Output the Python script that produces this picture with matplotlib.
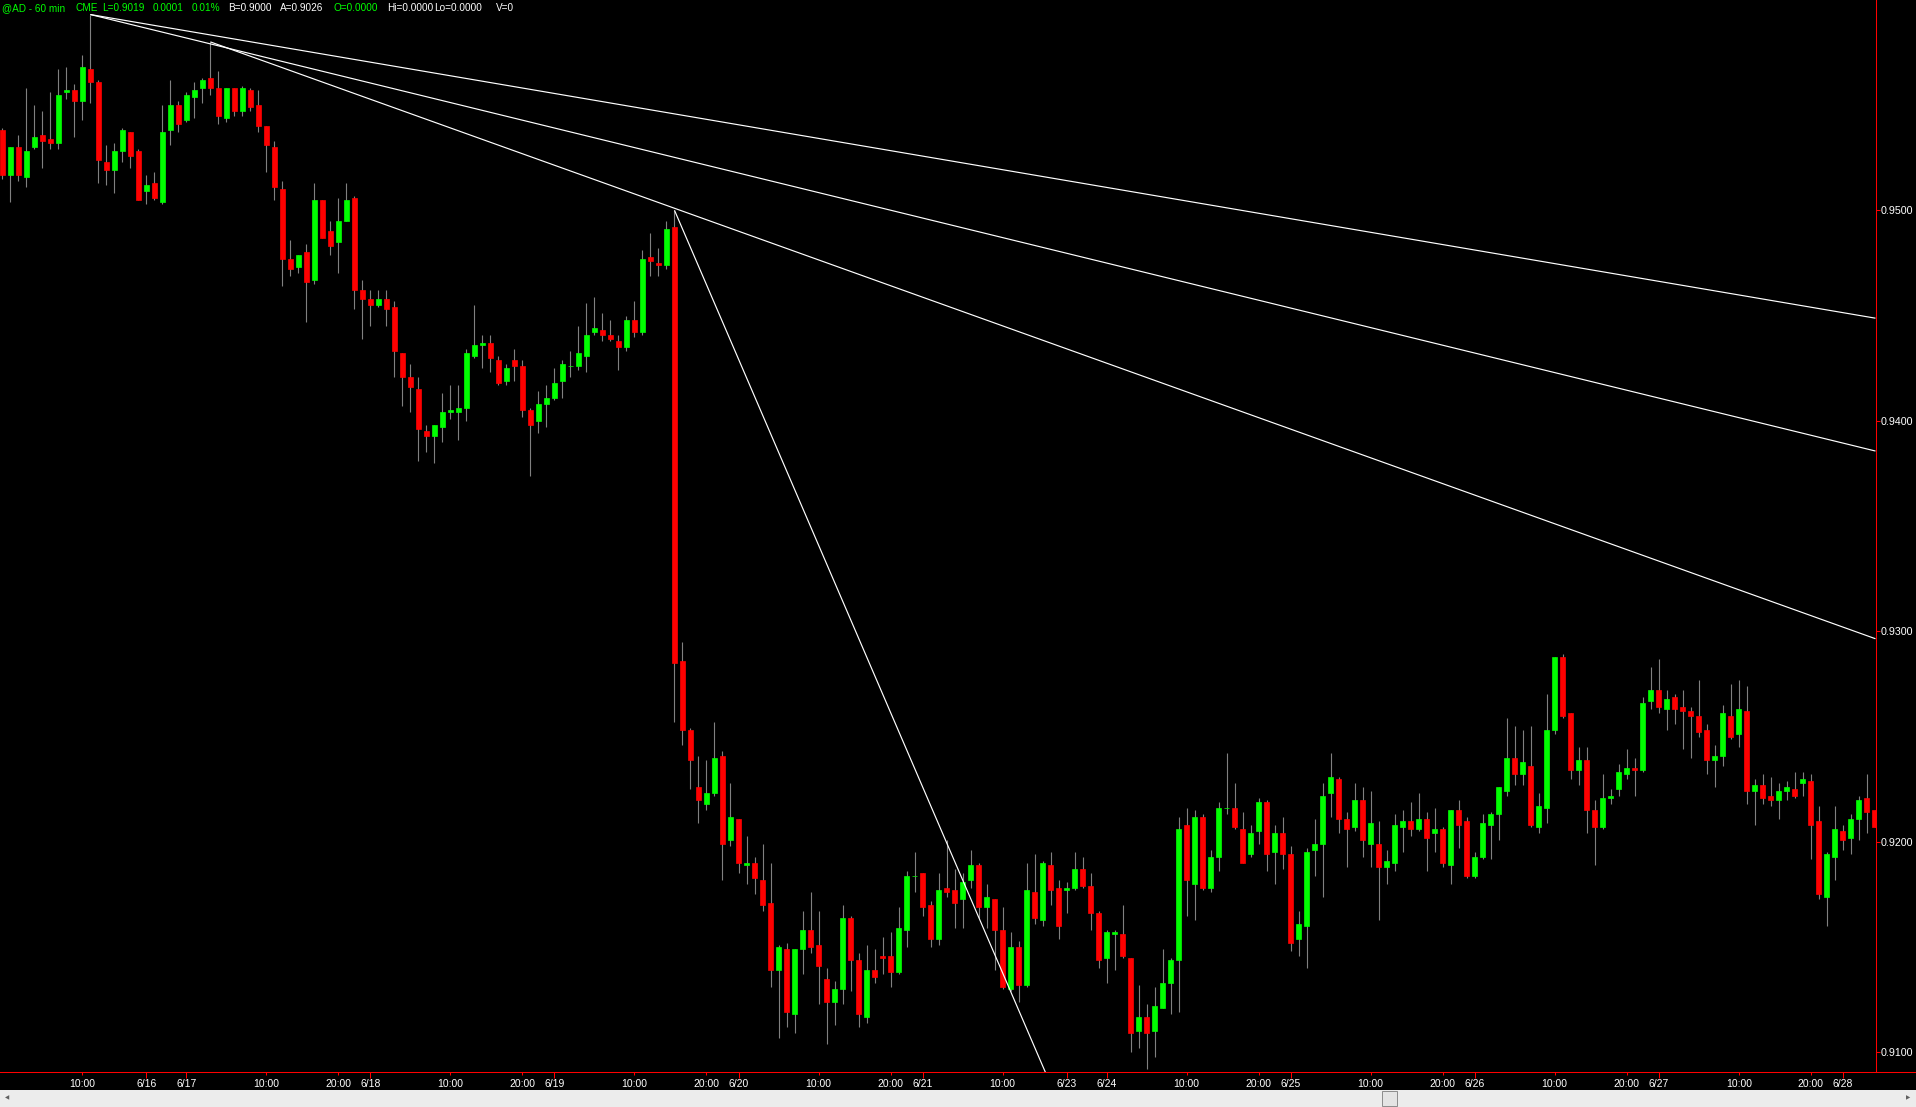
import matplotlib
matplotlib.use("Agg")
import matplotlib.pyplot as plt
import matplotlib.transforms as mtransforms
from matplotlib.patches import Rectangle
from matplotlib.lines import Line2D
import numpy as np

plt.rcParams['font.family'] = ['Liberation Sans', 'DejaVu Sans']

# ---------------- data (60-min bars, AD futures) ----------------
opens = [0.9538, 0.9517, 0.9530, 0.9516, 0.9530, 0.9536, 0.9534, 0.9532, 0.9556, 0.9557,
         0.9552, 0.9567, 0.9561, 0.9523, 0.9519, 0.9528, 0.9537, 0.9528, 0.9509, 0.9513,
         0.9504, 0.9538, 0.9550, 0.9543, 0.9554, 0.9558, 0.9563, 0.9558, 0.9544, 0.9558,
         0.9547, 0.9557, 0.9550, 0.9540, 0.9530, 0.9510, 0.9477, 0.9473, 0.9480, 0.9467,
         0.9505, 0.9490, 0.9485, 0.9495, 0.9506, 0.9462, 0.9458, 0.9455, 0.9458, 0.9454,
         0.9432, 0.9421, 0.9415, 0.9395, 0.9393, 0.9397, 0.9404, 0.9404, 0.9406, 0.9431,
         0.9436, 0.9437, 0.9429, 0.9419, 0.9429, 0.9426, 0.9405, 0.9400, 0.9408, 0.9411,
         0.9419, 0.9426, 0.9426, 0.9431, 0.9442, 0.9443, 0.9441, 0.9438, 0.9435, 0.9448,
         0.9442, 0.9478, 0.9475, 0.9474, 0.9492, 0.9286, 0.9253, 0.9226, 0.9218, 0.9223,
         0.9241, 0.9201, 0.9211, 0.9189, 0.9190, 0.9182, 0.9171, 0.9139, 0.9149, 0.9118,
         0.9149, 0.9158, 0.9151, 0.9135, 0.9124, 0.9130, 0.9164, 0.9144, 0.9117, 0.9139,
         0.9146, 0.9146, 0.9138, 0.9158, 0.9184, 0.9185, 0.9170, 0.9154, 0.9178, 0.9177,
         0.9173, 0.9182, 0.9189, 0.9169, 0.9173, 0.9158, 0.9130, 0.9150, 0.9132, 0.9176,
         0.9163, 0.9189, 0.9178, 0.9177, 0.9178, 0.9187, 0.9179, 0.9166, 0.9145, 0.9156,
         0.9156, 0.9145, 0.9110, 0.9117, 0.9110, 0.9121, 0.9133, 0.9144, 0.9208, 0.9180,
         0.9212, 0.9178, 0.9193, 0.9216, 0.9216, 0.9206, 0.9194, 0.9205, 0.9219, 0.9195,
         0.9204, 0.9194, 0.9154, 0.9160, 0.9196, 0.9199, 0.9223, 0.9230, 0.9211, 0.9207,
         0.9220, 0.9199, 0.9199, 0.9188, 0.9190, 0.9207, 0.9210, 0.9206, 0.9211, 0.9204,
         0.9206, 0.9189, 0.9215, 0.9210, 0.9184, 0.9193, 0.9208, 0.9213, 0.9224, 0.9240,
         0.9232, 0.9236, 0.9207, 0.9216, 0.9253, 0.9288, 0.9261, 0.9234, 0.9239, 0.9215,
         0.9207, 0.9221, 0.9225, 0.9232, 0.9235, 0.9234, 0.9267, 0.9272, 0.9263, 0.9269,
         0.9264, 0.9262, 0.9260, 0.9253, 0.9239, 0.9241, 0.9260, 0.9251, 0.9262, 0.9224,
         0.9227, 0.9222, 0.9220, 0.9224, 0.9225, 0.9228, 0.9229, 0.9210, 0.9174, 0.9193,
         0.9205, 0.9202, 0.9211, 0.9221, 0.9215]
highs = [0.9539, 0.9530, 0.9536, 0.9558, 0.9550, 0.9547, 0.9556, 0.9567, 0.9568, 0.9560,
         0.9574, 0.9593, 0.9562, 0.9531, 0.9532, 0.9539, 0.9537, 0.9529, 0.9517, 0.9518,
         0.9550, 0.9562, 0.9552, 0.9556, 0.9561, 0.9563, 0.9580, 0.9566, 0.9558, 0.9558,
         0.9559, 0.9558, 0.9557, 0.9540, 0.9533, 0.9514, 0.9486, 0.9479, 0.9484, 0.9513,
         0.9505, 0.9495, 0.9506, 0.9513, 0.9507, 0.9467, 0.9462, 0.9462, 0.9462, 0.9457,
         0.9432, 0.9427, 0.9421, 0.9398, 0.9398, 0.9413, 0.9417, 0.9417, 0.9434, 0.9455,
         0.9441, 0.9441, 0.9431, 0.9427, 0.9434, 0.9429, 0.9406, 0.9414, 0.9417, 0.9425,
         0.9429, 0.9433, 0.9445, 0.9456, 0.9459, 0.9451, 0.9448, 0.9441, 0.9450, 0.9457,
         0.9481, 0.9489, 0.9482, 0.9495, 0.9500, 0.9295, 0.9254, 0.9241, 0.9239, 0.9257,
         0.9243, 0.9228, 0.9211, 0.9203, 0.9193, 0.9199, 0.9190, 0.9151, 0.9152, 0.9149,
         0.9167, 0.9176, 0.9167, 0.9140, 0.9134, 0.9170, 0.9165, 0.9147, 0.9151, 0.9149,
         0.9155, 0.9157, 0.9169, 0.9186, 0.9195, 0.9185, 0.9172, 0.9185, 0.9201, 0.9187,
         0.9185, 0.9196, 0.9190, 0.9180, 0.9173, 0.9169, 0.9157, 0.9153, 0.9190, 0.9194,
         0.9191, 0.9195, 0.9182, 0.9181, 0.9195, 0.9193, 0.9185, 0.9167, 0.9158, 0.9158,
         0.9170, 0.9145, 0.9132, 0.9123, 0.9131, 0.9149, 0.9145, 0.9212, 0.9216, 0.9215,
         0.9213, 0.9196, 0.9219, 0.9242, 0.9228, 0.9214, 0.9208, 0.9221, 0.9220, 0.9208,
         0.9212, 0.9198, 0.9167, 0.9197, 0.9211, 0.9228, 0.9242, 0.9231, 0.9214, 0.9228,
         0.9226, 0.9224, 0.9210, 0.9196, 0.9213, 0.9215, 0.9219, 0.9223, 0.9214, 0.9216,
         0.9207, 0.9215, 0.9220, 0.9212, 0.9195, 0.9213, 0.9214, 0.9226, 0.9259, 0.9255,
         0.9253, 0.9255, 0.9223, 0.9270, 0.9288, 0.9289, 0.9261, 0.9245, 0.9245, 0.9220,
         0.9232, 0.9225, 0.9237, 0.9244, 0.9240, 0.9269, 0.9283, 0.9287, 0.9272, 0.9270,
         0.9272, 0.9264, 0.9277, 0.9256, 0.9246, 0.9265, 0.9275, 0.9277, 0.9274, 0.9230,
         0.9232, 0.9231, 0.9228, 0.9229, 0.9233, 0.9233, 0.9232, 0.9217, 0.9195, 0.9217,
         0.9208, 0.9213, 0.9222, 0.9232, 0.9215]
lows = [0.9515, 0.9504, 0.9514, 0.9511, 0.9529, 0.9520, 0.9529, 0.9529, 0.9553, 0.9535,
        0.9543, 0.9551, 0.9513, 0.9512, 0.9508, 0.9523, 0.9520, 0.9505, 0.9503, 0.9505,
        0.9503, 0.9531, 0.9537, 0.9542, 0.9544, 0.9551, 0.9555, 0.9541, 0.9542, 0.9545,
        0.9545, 0.9547, 0.9537, 0.9518, 0.9505, 0.9464, 0.9469, 0.9470, 0.9447, 0.9465,
        0.9487, 0.9479, 0.9470, 0.9495, 0.9453, 0.9439, 0.9445, 0.9454, 0.9445, 0.9421,
        0.9407, 0.9404, 0.9381, 0.9385, 0.9380, 0.9390, 0.9401, 0.9391, 0.9400, 0.9430,
        0.9425, 0.9423, 0.9417, 0.9417, 0.9419, 0.9402, 0.9374, 0.9394, 0.9397, 0.9410,
        0.9411, 0.9421, 0.9424, 0.9423, 0.9441, 0.9438, 0.9438, 0.9424, 0.9433, 0.9440,
        0.9441, 0.9469, 0.9469, 0.9472, 0.9257, 0.9246, 0.9225, 0.9209, 0.9215, 0.9222,
        0.9182, 0.9198, 0.9185, 0.9180, 0.9175, 0.9167, 0.9131, 0.9107, 0.9112, 0.9109,
        0.9137, 0.9147, 0.9123, 0.9104, 0.9113, 0.9123, 0.9129, 0.9112, 0.9114, 0.9133,
        0.9137, 0.9131, 0.9137, 0.9150, 0.9176, 0.9165, 0.9150, 0.9151, 0.9174, 0.9159,
        0.9159, 0.9178, 0.9164, 0.9159, 0.9139, 0.9130, 0.9129, 0.9124, 0.9131, 0.9161,
        0.9160, 0.9170, 0.9154, 0.9166, 0.9177, 0.9178, 0.9158, 0.9140, 0.9133, 0.9139,
        0.9145, 0.9100, 0.9102, 0.9092, 0.9098, 0.9121, 0.9118, 0.9119, 0.9165, 0.9163,
        0.9177, 0.9176, 0.9186, 0.9213, 0.9206, 0.9190, 0.9193, 0.9199, 0.9186, 0.9180,
        0.9187, 0.9148, 0.9146, 0.9140, 0.9184, 0.9174, 0.9212, 0.9204, 0.9188, 0.9205,
        0.9193, 0.9188, 0.9163, 0.9180, 0.9186, 0.9195, 0.9203, 0.9205, 0.9186, 0.9195,
        0.9188, 0.9180, 0.9197, 0.9183, 0.9183, 0.9192, 0.9192, 0.9201, 0.9222, 0.9227,
        0.9227, 0.9207, 0.9204, 0.9209, 0.9251, 0.9259, 0.9230, 0.9227, 0.9204, 0.9189,
        0.9206, 0.9218, 0.9222, 0.9230, 0.9222, 0.9233, 0.9263, 0.9261, 0.9253, 0.9256,
        0.9244, 0.9240, 0.9250, 0.9232, 0.9226, 0.9236, 0.9249, 0.9245, 0.9218, 0.9208,
        0.9218, 0.9217, 0.9211, 0.9220, 0.9221, 0.9222, 0.9192, 0.9173, 0.9160, 0.9182,
        0.9196, 0.9194, 0.9201, 0.9204, 0.9207]
closes = [0.9517, 0.9530, 0.9517, 0.9528, 0.9535, 0.9533, 0.9532, 0.9555, 0.9557, 0.9552,
          0.9568, 0.9561, 0.9524, 0.9519, 0.9528, 0.9538, 0.9526, 0.9505, 0.9512, 0.9506,
          0.9537, 0.9550, 0.9541, 0.9555, 0.9557, 0.9562, 0.9558, 0.9545, 0.9558, 0.9547,
          0.9558, 0.9549, 0.9540, 0.9531, 0.9511, 0.9477, 0.9472, 0.9479, 0.9466, 0.9505,
          0.9487, 0.9483, 0.9495, 0.9505, 0.9462, 0.9458, 0.9455, 0.9458, 0.9453, 0.9433,
          0.9421, 0.9416, 0.9396, 0.9393, 0.9398, 0.9404, 0.9405, 0.9406, 0.9432, 0.9436,
          0.9437, 0.9430, 0.9418, 0.9425, 0.9426, 0.9405, 0.9398, 0.9408, 0.9411, 0.9418,
          0.9427, 0.9426, 0.9432, 0.9441, 0.9444, 0.9441, 0.9439, 0.9435, 0.9448, 0.9442,
          0.9477, 0.9476, 0.9474, 0.9491, 0.9285, 0.9253, 0.9239, 0.9220, 0.9223, 0.9240,
          0.9199, 0.9212, 0.9190, 0.9190, 0.9183, 0.9170, 0.9139, 0.9150, 0.9119, 0.9149,
          0.9158, 0.9150, 0.9141, 0.9124, 0.9130, 0.9164, 0.9144, 0.9118, 0.9139, 0.9136,
          0.9145, 0.9138, 0.9159, 0.9184, 0.9184, 0.9169, 0.9154, 0.9177, 0.9176, 0.9171,
          0.9181, 0.9189, 0.9169, 0.9174, 0.9158, 0.9131, 0.9150, 0.9132, 0.9177, 0.9164,
          0.9190, 0.9177, 0.9160, 0.9178, 0.9187, 0.9179, 0.9166, 0.9144, 0.9157, 0.9157,
          0.9146, 0.9109, 0.9117, 0.9109, 0.9122, 0.9133, 0.9144, 0.9206, 0.9182, 0.9212,
          0.9178, 0.9193, 0.9216, 0.9216, 0.9207, 0.9190, 0.9204, 0.9219, 0.9194, 0.9204,
          0.9194, 0.9152, 0.9161, 0.9195, 0.9199, 0.9222, 0.9231, 0.9211, 0.9206, 0.9220,
          0.9201, 0.9209, 0.9188, 0.9191, 0.9208, 0.9210, 0.9206, 0.9211, 0.9202, 0.9206,
          0.9190, 0.9215, 0.9208, 0.9184, 0.9193, 0.9209, 0.9213, 0.9226, 0.9240, 0.9232,
          0.9238, 0.9208, 0.9217, 0.9253, 0.9288, 0.9260, 0.9234, 0.9239, 0.9215, 0.9207,
          0.9221, 0.9222, 0.9233, 0.9235, 0.9234, 0.9266, 0.9272, 0.9264, 0.9268, 0.9263,
          0.9262, 0.9260, 0.9252, 0.9239, 0.9241, 0.9261, 0.9250, 0.9263, 0.9224, 0.9227,
          0.9221, 0.9220, 0.9224, 0.9226, 0.9222, 0.9230, 0.9208, 0.9175, 0.9194, 0.9206,
          0.9201, 0.9211, 0.9220, 0.9214, 0.9207]

# x-axis labels (bar index, label)
tick_pos = [10, 18, 23, 33, 42, 46, 56, 65, 69, 79, 88, 92, 102, 111, 115,
            125, 133, 138, 148, 157, 161, 171, 180, 184, 194, 203, 207, 217, 226, 230]
tick_lab = ['10:00', '6/16', '6/17', '10:00', '20:00', '6/18', '10:00', '20:00', '6/19',
            '10:00', '20:00', '6/20', '10:00', '20:00', '6/21', '10:00', '6/23', '6/24',
            '10:00', '20:00', '6/25', '10:00', '20:00', '6/26', '10:00', '20:00', '6/27',
            '10:00', '20:00', '6/28']
y_ticks = [0.9100, 0.9200, 0.9300, 0.9400, 0.9500]

# drawn trend/fan lines: (bar index a, price a, bar index b, price b)
fan_lines = [(11, 0.9593, 233.7, 0.9449),
             (11, 0.9593, 233.7, 0.9386),
             (26, 0.9580, 233.7, 0.9297),
             (84, 0.9500, 130.3, 0.9091)]

header = [("@AD - 60 min", 2, '#00ff00'), ("CME", 75, '#00ff00'), ("L=0.9019", 102, '#00ff00'),
          ("0.0001", 153, '#00ff00'), ("0.01%", 192, '#00ff00'), ("B=0.9000", 228, '#ffffff'),
          ("A=0.9026", 280, '#ffffff'), ("O=0.0000", 333, '#00ff00'), ("Hi=0.0000", 387, '#ffffff'),
          ("Lo=0.0000", 434, '#ffffff'), ("V=0", 496, '#ffffff')]

# ---------------- figure ----------------
W, H = 1916, 1107
fig = plt.figure(figsize=(W / 100, H / 100), dpi=100, facecolor='black')
ax_bottom_px = 1071.5
ax_right_px = 1875.5
ax = fig.add_axes([0, 1 - ax_bottom_px / H, ax_right_px / W, ax_bottom_px / H])
ax.set_facecolor('black')

o = np.array(opens); c = np.array(closes); h = np.array(highs); l = np.array(lows)
x = np.arange(len(o))
up = c >= o
ax.vlines(x, l, h, color='#808080', linewidth=0.8, zorder=2)
cols = np.where(up, '#00ff00', '#ff0000')
ax.bar(x, np.abs(c - o), bottom=np.minimum(o, c), width=0.6, color=cols,
       edgecolor=cols, linewidth=0.5, zorder=3)

xmin, xmax = -0.29, 234.09
ymin, ymax = 0.90909, 0.95999
for (xa, ya, xb, yb) in fan_lines:
    slope = (yb - ya) / (xb - xa)
    ax.plot([xa, xmax], [ya, ya + slope * (xmax - xa)], color='white',
            linewidth=0.85, zorder=4, solid_capstyle='butt')

ax.set_xlim(xmin, xmax)
ax.set_ylim(ymin, ymax)

# spines
for s in ['top', 'left', 'bottom']:
    ax.spines[s].set_visible(False)
ax.spines['right'].set_color('#ff0000')
ax.spines['right'].set_linewidth(0.75)
fig.add_artist(Line2D([0, 1], [1 - ax_bottom_px / H] * 2, color='#ff0000', linewidth=0.75))

# y axis on right
ax.yaxis.tick_right()
ax.set_yticks(y_ticks)
ax.set_yticklabels([f"{v:.4f}" for v in y_ticks])
ax.tick_params(axis='y', direction='out', length=3.0, width=0.75, color='#ff0000',
               pad=0.8, labelcolor='white', labelsize=7.7)

# x axis ticks
date_pos = [p for p, t in zip(tick_pos, tick_lab) if '/' in t]
time_pos = [p for p, t in zip(tick_pos, tick_lab) if '/' not in t]
ax.set_xticks(date_pos)
ax.set_xticks(time_pos, minor=True)
ax.tick_params(axis='x', which='major', direction='out', length=4.3, width=0.75,
               color='#ff0000', labelbottom=False)
ax.tick_params(axis='x', which='minor', direction='out', length=2.2, width=0.75,
               color='#ff0000', labelbottom=False)
trans = mtransforms.blended_transform_factory(ax.transData, fig.transFigure)
for p, t in zip(tick_pos, tick_lab):
    ax.text(p, 1 - 1084 / H, t, transform=trans, ha='center', va='center',
            color='white', fontsize=7.5, clip_on=False)

# header
for txt, px, col in header:
    fig.text(px / W, 1 - 8.3 / H, txt, ha='left', va='center', color=col, fontsize=7.2)

# scrollbar
fig.add_artist(Rectangle((0, 0), 1, (H - 1090) / H, transform=fig.transFigure,
                         facecolor='#ececec', edgecolor='none'))
fig.add_artist(Rectangle((1382 / W, (H - 1106) / H), 15 / W, 15 / H, transform=fig.transFigure,
                         facecolor='#e4e4e4', edgecolor='#8c8c8c', linewidth=0.7))
fig.text(7 / W, 1 - 1098 / H, '\u25c0', ha='center', va='center', color='#606060',
         fontsize=4, family='DejaVu Sans')
fig.text(1908 / W, 1 - 1098 / H, '\u25b6', ha='center', va='center', color='#606060',
         fontsize=4, family='DejaVu Sans')

fig.savefig('out.png', dpi=100, facecolor='black')
